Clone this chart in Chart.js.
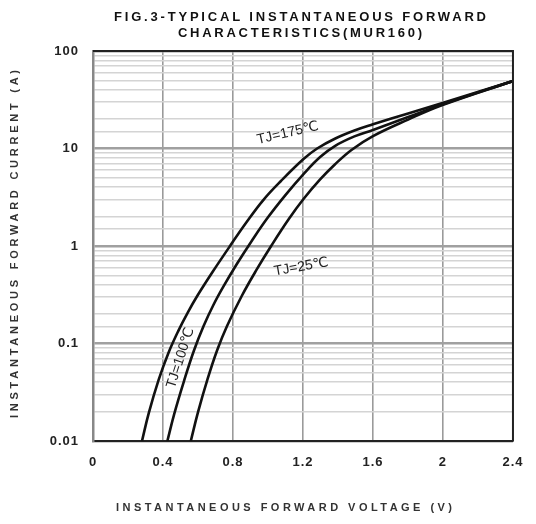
<!DOCTYPE html>
<html>
<head>
<meta charset="utf-8">
<script src="https://cdn.jsdelivr.net/npm/chart.js@4/dist/chart.umd.min.js"></script>
<style>
  html, body { margin: 0; padding: 0; background: #fff; }
  #wrap { width: 536px; height: 524px; }
</style>
</head>
<body>
<div id="wrap"><canvas id="c" width="536" height="524"></canvas></div>
<script>
// ---- data ----
const titleLines = ['FIG.3-TYPICAL INSTANTANEOUS FORWARD', 'CHARACTERISTICS(MUR160)'];
const xAxisTitle = 'INSTANTANEOUS FORWARD VOLTAGE (V)';
const yAxisTitle = 'INSTANTANEOUS FORWARD CURRENT (A)';
const xTickLabels = ['0', '0.4', '0.8', '1.2', '1.6', '2', '2.4'];
const yTickLabels = ['0.01', '0.1', '1', '10', '100'];
const seriesNames = ['TJ=175℃', 'TJ=100℃', 'TJ=25℃'];

const voltage175 = [0.280, 0.319, 0.375, 0.431, 0.487, 0.543, 0.599, 0.683, 0.783, 0.878,
                    0.973, 1.074, 1.203, 1.281, 1.382, 1.494, 1.600, 1.801, 1.997, 2.400];
const current175 = [0.0100, 0.0194, 0.0423, 0.0800, 0.134, 0.210, 0.314, 0.541, 1.00, 1.76,
                    2.96, 4.64, 7.80, 10.0, 12.6, 15.3, 17.7, 22.9, 29.3, 49.2];

const voltage100 = [0.425, 0.464, 0.520, 0.576, 0.632, 0.688, 0.744, 0.822, 0.906, 1.001,
                    1.102, 1.203, 1.298, 1.382, 1.494, 1.600, 1.801, 1.997, 2.400];
const current100 = [0.0100, 0.0189, 0.0412, 0.0838, 0.151, 0.248, 0.380, 0.653, 1.12, 1.98,
                    3.37, 5.47, 8.18, 10.6, 13.3, 15.5, 21.0, 28.3, 49.2];

const voltage25 = [0.559, 0.599, 0.655, 0.710, 0.766, 0.850, 0.934, 1.018, 1.119, 1.203,
                   1.298, 1.382, 1.477, 1.600, 1.801, 1.997, 2.400];
const current25 = [0.0100, 0.0194, 0.0433, 0.0857, 0.151, 0.307, 0.568, 1.00, 1.89, 3.03,
                   4.81, 6.85, 9.66, 13.4, 19.8, 27.9, 49.2];

// ---- label placement (data coordinates) & style ----
const labelPlacement = [
  { text: seriesNames[0], v: 1.113, i: 14.4, angle: -13 },
  { text: seriesNames[1], v: 0.50, i: 0.071, angle: -72 },
  { text: seriesNames[2], v: 1.19, i: 0.61, angle: -10 }
];

function pts(xs, ys) { return xs.map((x, k) => ({ x: x, y: ys[k] })); }

function drawSpaced(ctx, text, cx, cy, targetWidth, font, color, angle) {
  ctx.save();
  ctx.font = font;
  ctx.letterSpacing = '0px';
  const w0 = ctx.measureText(text).width;
  const sp = (targetWidth - w0) / Math.max(1, text.length - 1);
  ctx.letterSpacing = sp + 'px';
  ctx.fillStyle = color;
  ctx.textBaseline = 'middle';
  ctx.textAlign = 'left';
  ctx.translate(cx, cy);
  if (angle) ctx.rotate(angle * Math.PI / 180);
  ctx.fillText(text, -targetWidth / 2, 0);
  ctx.restore();
}

const decorations = {
  id: 'decorations',
  beforeDraw(chart) {
    chart.ctx.letterSpacing = '1px';
  },
  afterDatasetsDraw(chart) {
    const ctx = chart.ctx;
    const a = chart.chartArea;
    ctx.save();
    ctx.letterSpacing = '0px';
    ctx.strokeStyle = '#222';
    ctx.lineWidth = 2;
    ctx.beginPath();
    ctx.moveTo(a.left, a.top);
    ctx.lineTo(a.right, a.top);
    ctx.lineTo(a.right, a.bottom);
    ctx.stroke();
    ctx.restore();

    const xs = chart.scales.x, ys = chart.scales.y;
    labelPlacement.forEach(l => {
      ctx.save();
      ctx.letterSpacing = '0px';
      ctx.translate(xs.getPixelForValue(l.v), ys.getPixelForValue(l.i));
      ctx.rotate(l.angle * Math.PI / 180);
      ctx.font = '14px "Liberation Sans", "DejaVu Sans", sans-serif';
      ctx.fillStyle = '#222';
      ctx.textAlign = 'center';
      ctx.textBaseline = 'middle';
      ctx.fillText(l.text, 0, 0);
      ctx.restore();
    });
  },
  afterDraw(chart) {
    const ctx = chart.ctx;
    const tf = 'bold 13px "Liberation Sans", Arial, sans-serif';
    drawSpaced(ctx, titleLines[0], 300, 17, 372, tf, '#111', 0);
    drawSpaced(ctx, titleLines[1], 300, 33, 244, tf, '#111', 0);
    const af = 'bold 11px "Liberation Sans", Arial, sans-serif';
    drawSpaced(ctx, xAxisTitle, 284, 508, 336, af, '#333', 0);
    drawSpaced(ctx, yAxisTitle, 15, 244, 348, af, '#333', -90);
    ctx.letterSpacing = '0px';
  }
};

const lineStyle = {
  borderColor: '#111',
  borderWidth: 2.6,
  pointRadius: 0,
  fill: false,
  tension: 0.4
};

new Chart(document.getElementById('c'), {
  type: 'scatter',
  data: {
    datasets: [
      Object.assign({ label: seriesNames[0], data: pts(voltage175, current175), showLine: true }, lineStyle),
      Object.assign({ label: seriesNames[1], data: pts(voltage100, current100), showLine: true }, lineStyle),
      Object.assign({ label: seriesNames[2], data: pts(voltage25, current25), showLine: true }, lineStyle)
    ]
  },
  options: {
    responsive: false,
    animation: false,
    devicePixelRatio: 1,
    layout: { padding: { left: 0, top: 51, right: 14, bottom: 0 } },
    plugins: { legend: { display: false }, tooltip: { enabled: false }, title: { display: false } },
    scales: {
      x: {
        type: 'linear',
        min: 0, max: 2.4,
        afterFit(s) { s.height = 83; },
        afterBuildTicks(s) { s.ticks = xTickLabels.map(t => ({ value: parseFloat(t) })); },
        ticks: {
          padding: 14,
          color: '#222',
          font: { family: '"Liberation Sans", Arial, sans-serif', size: 13, weight: 'bold' },
          callback: (v, idx) => xTickLabels[idx],
          maxRotation: 0, autoSkip: false
        },
        grid: { color: '#9a9a9a', lineWidth: 1.6, drawTicks: false },
        border: { color: '#222', width: 2 }
      },
      y: {
        type: 'logarithmic',
        min: 0.01, max: 100,
        afterFit(s) { s.width = 93; },
        ticks: {
          padding: 14,
          color: '#222',
          autoSkip: false,
          font: { family: '"Liberation Sans", Arial, sans-serif', size: 13, weight: 'bold' },
          callback: (v) => {
            const k = yTickLabels.findIndex(t => Math.abs(parseFloat(t) - v) < 1e-9);
            return k >= 0 ? yTickLabels[k] : '';
          }
        },
        grid: {
          drawTicks: false,
          color: (c) => {
            const v = c.tick ? c.tick.value : 0;
            const l = Math.log10(v);
            return Math.abs(l - Math.round(l)) < 1e-6 ? '#a0a0a0' : '#d4d4d4';
          },
          lineWidth: (c) => {
            const v = c.tick ? c.tick.value : 0;
            const l = Math.log10(v);
            return Math.abs(l - Math.round(l)) < 1e-6 ? 2.4 : 1.6;
          }
        },
        border: { color: '#888', width: 2.5 }
      }
    }
  },
  plugins: [decorations]
});
</script>
</body>
</html>
